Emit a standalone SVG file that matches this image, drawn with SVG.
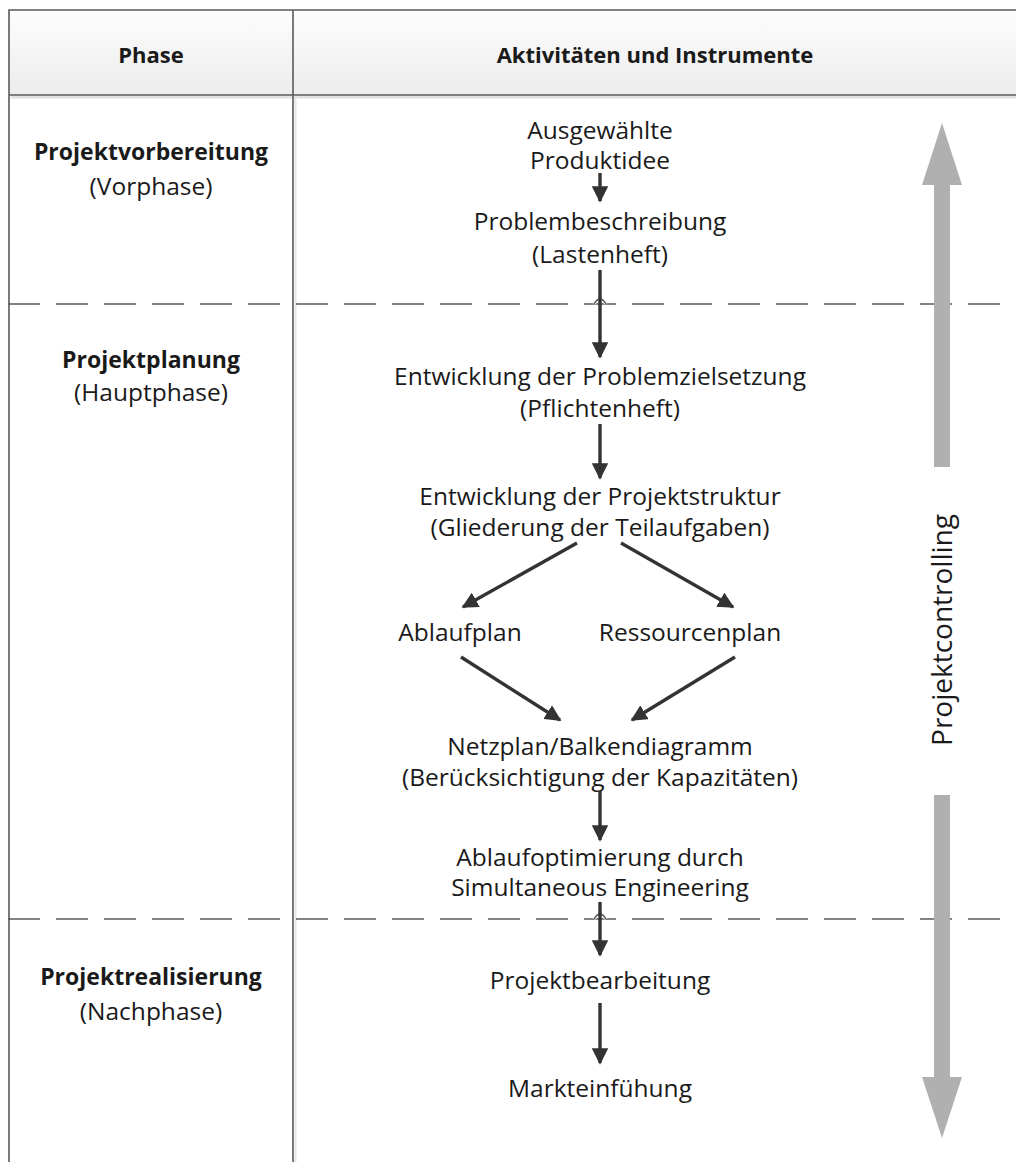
<svg xmlns="http://www.w3.org/2000/svg" width="1016" height="1162" viewBox="0 0 1016 1162">
<defs>
<linearGradient id="hdr" x1="0" y1="0" x2="0" y2="1">
<stop offset="0" stop-color="#fdfdfd"/>
<stop offset="1" stop-color="#ececec"/>
</linearGradient>
<marker id="ah" viewBox="0 0 10 10" refX="9" refY="5" markerWidth="4.8" markerHeight="4.8" markerUnits="strokeWidth" orient="auto">
<path d="M0,0 L10,5 L0,10 Z" fill="#333"/>
</marker>
<style>
.t{font-family:"Open Sans","Liberation Sans",sans-serif;font-size:24.5px;fill:#1a1a1a;text-anchor:middle}
.b{font-weight:bold;font-size:23px}
.h{font-weight:bold;font-size:22px}
.grid{stroke:#5a5a5a;stroke-width:1.6;fill:none}
.dash{stroke:#5a5a5a;stroke-width:1.5;fill:none;stroke-dasharray:32 16}
.con{stroke:#333;stroke-width:3.4;fill:none;marker-end:url(#ah)}
.ga{fill:#b0b0b0}
</style>
</defs>
<rect width="1016" height="1162" fill="#fff"/>
<g id="table">
<rect x="9" y="10" width="1010" height="85" fill="url(#hdr)"/>
<line x1="11" y1="97" x2="1016" y2="97" stroke="#e2e2e2" stroke-width="3"/>
<line x1="295.5" y1="97" x2="295.5" y2="1162" stroke="#e6e6e6" stroke-width="2"/>
<path class="grid" d="M9,1162 V10 H1016 M9,95 H1016 M293,10 V1162"/>
<path class="dash" d="M8,304 H1016 M8,919 H1016"/>
<path d="M594,304 Q600,294 606,304" stroke="#fff" stroke-width="3" fill="none"/>
<path d="M594,304 Q600,294 606,304" stroke="#5a5a5a" stroke-width="1.5" fill="none"/>
<path d="M594,919 Q600,909 606,919" stroke="#fff" stroke-width="3" fill="none"/>
<path d="M594,919 Q600,909 606,919" stroke="#5a5a5a" stroke-width="1.5" fill="none"/>
</g>
<g id="header">
<text class="t h" x="151" y="63">Phase</text>
<text class="t h" x="655" y="63">Aktivitäten und Instrumente</text>
</g>
<g id="phase1"><text class="t b" x="151" y="160">Projektvorbereitung</text><text class="t" x="151" y="195">(Vorphase)</text></g>
<g id="phase2"><text class="t b" x="151" y="368">Projektplanung</text><text class="t" x="151" y="401">(Hauptphase)</text></g>
<g id="phase3"><text class="t b" x="151" y="985">Projektrealisierung</text><text class="t" x="151" y="1020">(Nachphase)</text></g>
<g id="n1"><text class="t" x="600" y="139">Ausgewählte</text><text class="t" x="600" y="169">Produktidee</text></g>
<g id="n2"><text class="t" x="600" y="230">Problembeschreibung</text><text class="t" x="600" y="263">(Lastenheft)</text></g>
<g id="n3"><text class="t" x="600" y="385">Entwicklung der Problemzielsetzung</text><text class="t" x="600" y="417">(Pflichtenheft)</text></g>
<g id="n4"><text class="t" x="600" y="505">Entwicklung der Projektstruktur</text><text class="t" x="600" y="536">(Gliederung der Teilaufgaben)</text></g>
<g id="n5"><text class="t" x="460" y="641">Ablaufplan</text></g>
<g id="n6"><text class="t" x="690" y="641">Ressourcenplan</text></g>
<g id="n7"><text class="t" x="600" y="755">Netzplan/Balkendiagramm</text><text class="t" x="600" y="786">(Berücksichtigung der Kapazitäten)</text></g>
<g id="n8"><text class="t" x="600" y="866">Ablaufoptimierung durch</text><text class="t" x="600" y="896">Simultaneous Engineering</text></g>
<g id="n9"><text class="t" x="600" y="989">Projektbearbeitung</text></g>
<g id="n10"><text class="t" x="600" y="1097">Markteinfühung</text></g>
<g id="controlling">
<path class="ga" d="M934,467 V185 H922 L942,123 L962,185 H950 V467 Z"/>
<path class="ga" d="M934,795 V1077 H922 L942,1138 L962,1077 H950 V795 Z"/>
<text class="t" x="0" y="0" transform="translate(952,630) rotate(-90)" style="font-size:28px">Projektcontrolling</text>
</g>
<g id="connectors">
<line class="con" x1="600" y1="173" x2="600" y2="201"/>
<line class="con" x1="600" y1="270" x2="600" y2="357"/>
<line class="con" x1="600" y1="424" x2="600" y2="478"/>
<line class="con" x1="577" y1="543" x2="463" y2="607"/>
<line class="con" x1="621" y1="543" x2="733" y2="607"/>
<line class="con" x1="461" y1="657" x2="560" y2="720"/>
<line class="con" x1="735" y1="657" x2="632" y2="720"/>
<line class="con" x1="600" y1="791" x2="600" y2="840"/>
<line class="con" x1="600" y1="902" x2="600" y2="955"/>
<line class="con" x1="600" y1="1003" x2="600" y2="1063"/>
</g>
</svg>
